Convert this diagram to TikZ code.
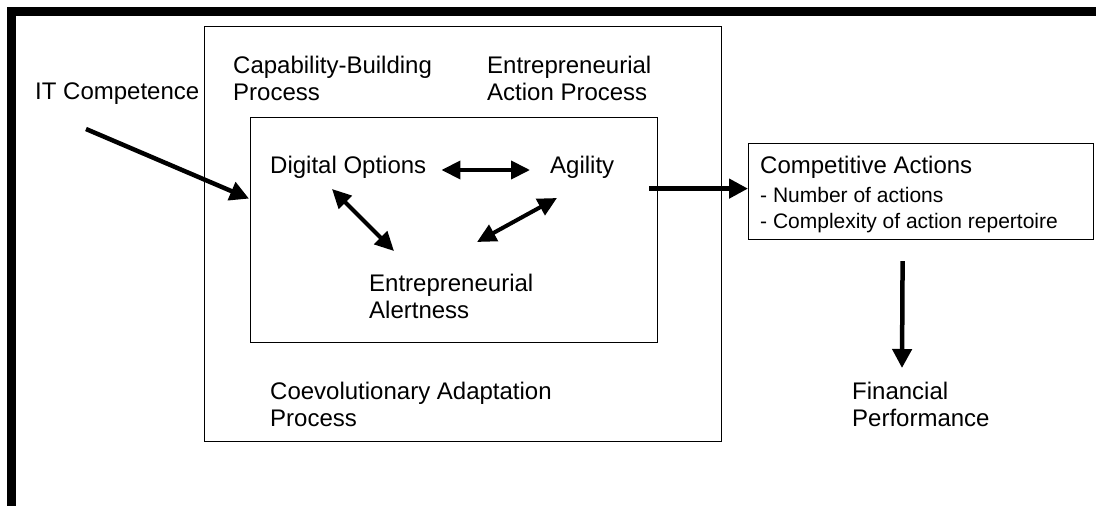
\documentclass[tikz,border=0pt]{standalone}
\usepackage{fontspec}
\setmainfont{Liberation Sans}
\usetikzlibrary{arrows.meta, calc, positioning}

\tikzset{
  lbl/.style={anchor=base west, inner sep=0pt, align=left, font=\fontsize{24}{27}\selectfont},
  sublbl/.style={anchor=base west, inner sep=0pt, align=left, font=\fontsize{21}{26}\selectfont},
  box/.style={draw, line width=1.2pt, inner sep=0pt, anchor=north west},
  frame/.style={line width=9pt},
  arr/.style={line width=4.5pt, -{Triangle[length=19pt,width=19pt]}},
  dbl/.style={line width=4pt, {Triangle[length=19pt,width=18pt]}-{Triangle[length=19pt,width=18pt]}}
}

\begin{document}
\begin{tikzpicture}[x=1pt, y=-1pt, line join=miter]
	\useasboundingbox (0,0) rectangle (1096,506);
	% page frame, top and left
	\draw[frame] (7,11.5) -- (1096,11.5);
	\draw[frame] (11.5,7) -- (11.5,506);
	
	% process boxes
	\node[box, minimum width=517pt, minimum height=415pt] (outer) at (204,26) {};
	\node[box, minimum width=407pt, minimum height=225pt] (inner) at (250,117) {};
	
	% labels (multi-line ones sit on their last line)
	\node[lbl] (itcomp) at (35,99) {IT Competence};
	\node[lbl] (capbuild) at (233,100) {Capability-Building\\Process};
	\node[lbl] (entact) at (487,100) {Entrepreneurial\\Action Process};
	\node[lbl] (digopt) at (270,173) {Digital Options};
	\node[lbl] (agility) at (550,173) {Agility};
	\node[lbl] (alert) at (369,318) {Entrepreneurial\\Alertness};
	\node[lbl] (coevol) at (270,426) {Coevolutionary Adaptation\\Process};
	\node[lbl] (finperf) at (852,426) {Financial\\Performance};
	
	% competitive actions
	\node[box, minimum width=345pt, minimum height=96pt] (compact) at (748,143) {};
	\node[lbl] (comptitle) at (760,173) {Competitive Actions};
	\node[sublbl] (complist) at (760,228) {- Number of actions\\- Complexity of action repertoire};
	
	% arrows
	\draw[arr] ($(itcomp.base west)+(51,30)$) -- ($(inner.west)+(-1,-31.5)$);
	\draw[dbl] ($(digopt.base east)+(15,-3)$) -- ($(agility.base west)+(-20,-3)$);
	\draw[dbl] ($(digopt.base west)+(62,16)$) -- ($(alert.base west)+(25,-67)$);
	\draw[dbl] ($(agility.base west)+(7,25)$) -- ($(alert.base west)+(108,-76)$);
	\draw[arr] ($(inner.east)+(-9,-41.5)$) -- ($(compact.west)+(0,-3)$);
	\draw[arr] ($(compact.south)+(-18.5,21)$) -- ($(finperf.base west)+(50,-58)$);
\end{tikzpicture}
\end{document}
